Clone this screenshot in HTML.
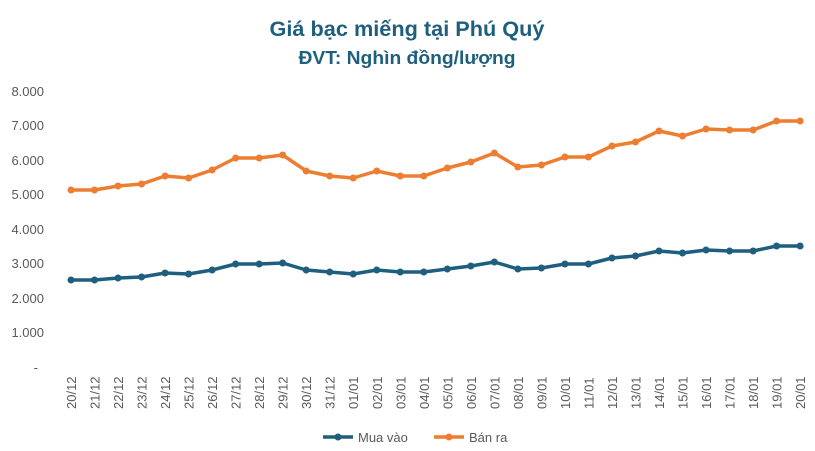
<!DOCTYPE html>
<html><head><meta charset="utf-8"><style>
body{margin:0;background:#fff;}
svg{display:block;font-family:"Liberation Sans",sans-serif;}
</style></head><body>
<svg width="815" height="451" viewBox="0 0 815 451" xmlns="http://www.w3.org/2000/svg">
<rect width="815" height="451" fill="#fff"/>
<text x="407" y="36" text-anchor="middle" font-size="21" font-weight="bold" fill="#1e5f7e" textLength="275" lengthAdjust="spacingAndGlyphs">Giá bạc miếng tại Phú Quý</text>
<text x="407" y="64" text-anchor="middle" font-size="18" font-weight="bold" fill="#1e5f7e" textLength="217" lengthAdjust="spacingAndGlyphs">ĐVT: Nghìn đồng/lượng</text>
<g font-size="13" fill="#595959" text-anchor="end">
<text x="44" y="96">8.000</text>
<text x="44" y="130">7.000</text>
<text x="44" y="165">6.000</text>
<text x="44" y="199">5.000</text>
<text x="44" y="234">4.000</text>
<text x="44" y="268">3.000</text>
<text x="44" y="303">2.000</text>
<text x="44" y="337">1.000</text>
<text x="38" y="372">-</text>
</g>
<g id="xl" font-size="13" fill="#595959"></g>
<polyline id="o" fill="none" stroke="#ed7d31" stroke-width="3.5" stroke-linejoin="round"/>
<polyline id="b" fill="none" stroke="#1e5f7e" stroke-width="3.5" stroke-linejoin="round"/>
<g id="dots"></g>
<line x1="323" y1="437" x2="353" y2="437" stroke="#1e5f7e" stroke-width="3.5"/>
<circle cx="338" cy="437" r="3.5" fill="#1e5f7e"/>
<text x="358" y="442" font-size="13" fill="#595959">Mua vào</text>
<line x1="434" y1="437" x2="464" y2="437" stroke="#ed7d31" stroke-width="3.5"/>
<circle cx="449" cy="437" r="3.5" fill="#ed7d31"/>
<text x="469" y="442" font-size="13" fill="#595959">Bán ra</text>
<script>
var labels=["20/12","21/12","22/12","23/12","24/12","25/12","26/12","27/12","28/12","29/12","30/12","31/12","01/01","02/01","03/01","04/01","05/01","06/01","07/01","08/01","09/01","10/01","11/01","12/01","13/01","14/01","15/01","16/01","17/01","18/01","19/01","20/01"];
var o=[190,190,186,184,176,178,170,158,158,155,171,176,178,171,176,176,168,162,153,167,165,157,157,146,142,131,136,129,130,130,121,121];
var b=[280,280,278,277,273,274,270,264,264,263,270,272,274,270,272,272,269,266,262,269,268,264,264,258,256,251,253,250,251,251,246,246];
var ns="http://www.w3.org/2000/svg",xl=document.getElementById("xl"),d=document.getElementById("dots");
var po=[],pb=[];
for(var i=0;i<32;i++){var x=71+i*23.52;po.push(x+","+o[i]);pb.push(x+","+b[i]);
var t=document.createElementNS(ns,"text");t.setAttribute("transform","translate("+(x+5)+",409) rotate(-90)");t.textContent=labels[i];xl.appendChild(t);
[[o[i],"#ed7d31"],[b[i],"#1e5f7e"]].forEach(function(p){var c=document.createElementNS(ns,"circle");c.setAttribute("cx",x);c.setAttribute("cy",p[0]);c.setAttribute("r",3.5);c.setAttribute("fill",p[1]);d.appendChild(c);});}
document.getElementById("o").setAttribute("points",po.join(" "));
document.getElementById("b").setAttribute("points",pb.join(" "));
</script>
</svg>
</body></html>
